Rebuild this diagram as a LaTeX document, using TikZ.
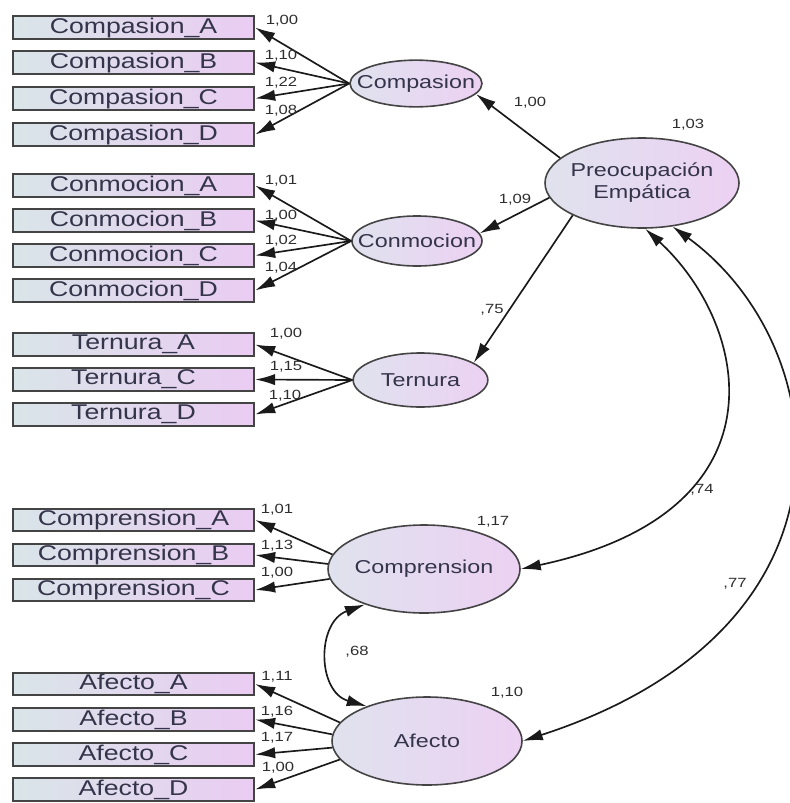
\documentclass[tikz,border=0pt]{standalone}
\usepackage{fontspec}
\setmainfont{Liberation Sans}[FakeStretch=1.25]
\usepackage{xcolor}
\usepackage{tikz}
\usetikzlibrary{arrows.meta}
\usetikzlibrary{shapes.geometric}

\definecolor{txt}{HTML}{34344A}
\definecolor{numtxt}{HTML}{2E2E2E}
\definecolor{boxline}{HTML}{444444}
\definecolor{obsleft}{HTML}{D9E5E9}
\definecolor{obsright}{HTML}{EACCF2}
\definecolor{latleft}{HTML}{E0E2EE}
\definecolor{latright}{HTML}{ECD1F3}
\definecolor{linecol}{HTML}{1A1A1A}
\newcommand{\ctxt}[1]{\makebox[0pt]{#1}}

\begin{document}
\begin{tikzpicture}[x=0.75pt,y=-0.75pt]
\tikzset{>={Latex[width=8.5pt,length=15pt]}}
\tikzstyle{obs} =[rectangle, draw=boxline, line width=1.5pt, left color=obsleft, right color=obsright, minimum width=181pt, minimum height=17pt, inner sep=0pt, text=txt, font=\fontsize{16pt}{19pt}\selectfont]
\tikzstyle{lat} =[ellipse, draw=boxline, line width=1.2pt, left color=latleft, right color=latright, inner sep=0pt, text=txt, font=\fontsize{14pt}{17pt}\selectfont]
\tikzstyle{num} =[inner sep=0pt, text=numtxt, font=\fontsize{10pt}{12pt}\selectfont]
\tikzstyle{lnk} =[->, line width=1.25pt, draw=linecol]
\tikzstyle{cov} =[<->, line width=1.25pt, draw=linecol]

\useasboundingbox (0,0) rectangle (789,803);

% latent variables
\node[lat,minimum width=99pt,minimum height=35pt](compasion) at (416,83.5){\ctxt{Compasion}};
\node[lat,minimum width=97.5pt,minimum height=37.5pt](conmocion) at (417,241){\ctxt{Conmocion}};
\node[lat,minimum width=101pt,minimum height=40.5pt](ternura) at (420.5,380){\ctxt{Ternura}};
\node[lat,minimum width=145.5pt,minimum height=67.5pt](preo) at (642,183){\ctxt{\begin{tabular}{@{}c@{}}Preocupación\\Empática\end{tabular}}};
\node[lat,minimum width=144pt,minimum height=66pt](comprension) at (424,569){\ctxt{Comprension}};
\node[lat,minimum width=142.5pt,minimum height=66pt](afecto) at (427,741){\ctxt{Afecto}};

% observed variables
\node[obs](cpA) at (133.5,27.5){Compasion\_A};
\node[obs](cpB) at (133.5,62.5){Compasion\_B};
\node[obs](cpC) at (133.5,98.5){Compasion\_C};
\node[obs](cpD) at (133.5,134.5){Compasion\_D};
\node[obs](cmA) at (133.5,185.5){Conmocion\_A};
\node[obs](cmB) at (133.5,220.5){Conmocion\_B};
\node[obs](cmC) at (133.5,255.5){Conmocion\_C};
\node[obs](cmD) at (133.5,290.5){Conmocion\_D};
\node[obs](teA) at (133.5,344.5){Ternura\_A};
\node[obs](teC) at (133.5,379.5){Ternura\_C};
\node[obs](teD) at (133.5,414.5){Ternura\_D};
\node[obs](crA) at (133.5,520){Comprension\_A};
\node[obs](crB) at (133.5,555){Comprension\_B};
\node[obs](crC) at (133.5,590){Comprension\_C};
\node[obs](afA) at (133.5,684){Afecto\_A};
\node[obs](afB) at (133.5,719.5){Afecto\_B};
\node[obs](afC) at (133.5,754.5){Afecto\_C};
\node[obs](afD) at (133.5,789.5){Afecto\_D};

% loadings
\draw [lnk] (compasion.west) -- (cpA.east);
\draw [lnk] (compasion.west) -- (cpB.east);
\draw [lnk] (compasion.west) -- (cpC.east);
\draw [lnk] (compasion.west) -- (cpD.east);
\draw [lnk] (conmocion.west) -- (cmA.east);
\draw [lnk] (conmocion.west) -- (cmB.east);
\draw [lnk] (conmocion.west) -- (cmC.east);
\draw [lnk] (conmocion.west) -- (cmD.east);
\draw [lnk] (ternura.west) -- (teA.east);
\draw [lnk] (ternura.west) -- (teC.east);
\draw [lnk] (ternura.west) -- (teD.east);
\draw [lnk] (comprension.171) -- (crA.east);
\draw [lnk] (comprension.177) -- (crB.east);
\draw [lnk] (comprension.186) -- (crC.east);
\draw [lnk] (afecto.168) -- (afA.east);
\draw [lnk] (afecto.176) -- (afB.east);
\draw [lnk] (afecto.184) -- (afC.east);
\draw [lnk] (afecto.192) -- (afD.east);

\node[num](ncpA) at (282,21){1,00};
\node[num](ncpB) at (281,56){1,10};
\node[num](ncpC) at (281,83){1,22};
\node[num](ncpD) at (281,111){1,08};
\node[num](ncmA) at (281,181){1,01};
\node[num](ncmB) at (281,216){1,00};
\node[num](ncmC) at (281,241){1,02};
\node[num](ncmD) at (281,268){1,04};
\node[num](nteA) at (286,334){1,00};
\node[num](nteC) at (286,367){1,15};
\node[num](nteD) at (285,396){1,10};
\node[num](ncrA) at (277,510){1,01};
\node[num](ncrB) at (277,546){1,13};
\node[num](ncrC) at (277,573){1,00};
\node[num](nafA) at (277,677){1,11};
\node[num](nafB) at (277,712){1,16};
\node[num](nafC) at (277,738){1,17};
\node[num](nafD) at (278,768){1,00};

% second order
\draw [lnk] (preo.163) -- (compasion.-10);
\draw [lnk] (preo.189) -- (conmocion.7);
\draw [lnk] (preo.205) -- (ternura.18);
\node[num](ncomp) at (530,103){1,00};
\node[num](nconm) at (515,200){1,09};
\node[num](ntern) at (492,310){,75};

% variances
\node[num](vpreo) at (688,125){1,03};
\node[num](vcomp) at (493,522){1,17};
\node[num](vafec) at (507,693){1,10};

% covariances
\draw [cov] (preo.-86) .. controls (750,325) and (790,512) .. (comprension.east);
\draw [cov] (preo.-55) .. controls (834,344) and (874,627) .. (afecto.east);
\draw [cov] (comprension.211) to [out=200,in=164,looseness=1.3] (afecto.150);
\node[num](c74) at (702,490){,74};
\node[num](c77) at (735,584){,77};
\node[num](c68) at (357,652){,68};
\end{tikzpicture}
\end{document}
